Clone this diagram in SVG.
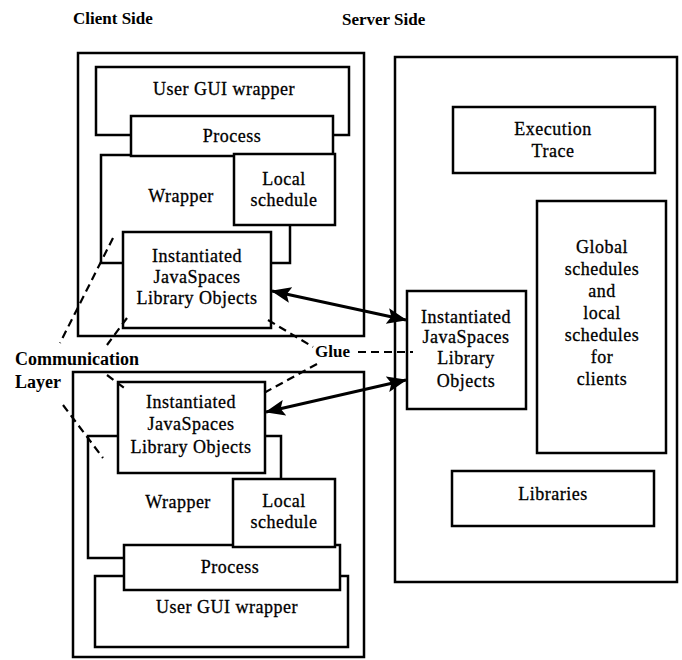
<svg xmlns="http://www.w3.org/2000/svg" width="682" height="660" viewBox="0 0 682 660">
<style>
.box{fill:#fff;stroke:#000;stroke-width:2.5}
.t{font-family:'Liberation Serif','DejaVu Serif',serif;font-size:18px;letter-spacing:0.5px;text-anchor:middle;fill:#000;stroke:#000;stroke-width:0.3}
.h{font-family:'Liberation Serif','DejaVu Serif',serif;font-size:17px;font-weight:bold;fill:#000}
.dash{fill:none;stroke:#000;stroke-width:2.2;stroke-dasharray:8 5}
.arr{fill:none;stroke:#000;stroke-width:3;marker-start:url(#ah);marker-end:url(#ah)}
</style>
<defs>
<marker id="ah" viewBox="0 0 20 16" refX="19" refY="8" markerWidth="20" markerHeight="16" markerUnits="userSpaceOnUse" orient="auto-start-reverse">
<path d="M0,0 L20,8 L0,16 L4,8 Z" fill="#000"/>
</marker>
</defs>
<rect width="682" height="660" fill="#fff"/>
<text class="h" x="73" y="24">Client Side</text>
<text class="h" x="342" y="25">Server Side</text>

<g id="client-top">
<rect class="box" x="78" y="53" width="286" height="283"/>
<g id="top-gui"><rect class="box" x="96" y="67" width="253" height="68"/><text class="t" x="224" y="95">User GUI wrapper</text></g>
<g id="top-wrapper"><rect class="box" x="101" y="155" width="189" height="108"/><text class="t" x="181" y="202">Wrapper</text></g>
<g id="top-process"><rect class="box" x="131" y="116" width="202" height="40"/><text class="t" x="232" y="142">Process</text></g>
<g id="top-local"><rect class="box" x="234" y="154" width="101" height="71"/><text class="t" x="284" y="185">Local</text><text class="t" x="284" y="206">schedule</text></g>
<g id="top-inst"><rect class="box" x="123" y="232" width="148" height="96"/><text class="t" x="197" y="262">Instantiated</text><text class="t" x="197" y="283">JavaSpaces</text><text class="t" x="197" y="304">Library Objects</text></g>
</g>

<g id="client-bottom">
<rect class="box" x="73" y="372" width="291" height="285"/>
<g id="bot-gui"><rect class="box" x="95" y="576" width="253" height="71"/><text class="t" x="227" y="613">User GUI wrapper</text></g>
<g id="bot-wrapper"><rect class="box" x="88" y="436" width="193" height="122"/><text class="t" x="178" y="508">Wrapper</text></g>
<g id="bot-process"><rect class="box" x="124" y="545" width="216" height="45"/><text class="t" x="230" y="573">Process</text></g>
<g id="bot-local"><rect class="box" x="233" y="479" width="102" height="68"/><text class="t" x="284" y="507">Local</text><text class="t" x="284" y="528">schedule</text></g>
<g id="bot-inst"><rect class="box" x="118" y="382" width="147" height="91"/><text class="t" x="191" y="408">Instantiated</text><text class="t" x="191" y="430">JavaSpaces</text><text class="t" x="191" y="453">Library Objects</text></g>
</g>

<g id="server">
<rect class="box" x="395" y="57" width="282" height="525"/>
<g id="exec"><rect class="box" x="453" y="107" width="202" height="66"/><text class="t" x="553" y="135">Execution</text><text class="t" x="553" y="157">Trace</text></g>
<g id="global"><rect class="box" x="537" y="201" width="129" height="252"/><text class="t" x="602" y="253">Global</text><text class="t" x="602" y="275">schedules</text><text class="t" x="602" y="297">and</text><text class="t" x="602" y="319">local</text><text class="t" x="602" y="341">schedules</text><text class="t" x="602" y="363">for</text><text class="t" x="602" y="385">clients</text></g>
<g id="srv-inst"><rect class="box" x="407" y="291" width="119" height="118"/><text class="t" x="466" y="323">Instantiated</text><text class="t" x="466" y="343">JavaSpaces</text><text class="t" x="466" y="364">Library</text><text class="t" x="466" y="387">Objects</text></g>
<g id="libs"><rect class="box" x="452" y="471" width="202" height="55"/><text class="t" x="553" y="500">Libraries</text></g>
</g>

<g id="labels">
<text class="h" x="15" y="365" style="font-size:18px">Communication</text>
<text class="h" x="15" y="388" style="font-size:18px">Layer</text>
<text class="h" x="315" y="357" style="font-size:17px">Glue</text>
</g>

<g id="connectors">
<line class="arr" x1="272" y1="291" x2="406" y2="320"/>
<line class="arr" x1="406" y1="380" x2="266" y2="412"/>
<line class="dash" x1="358" y1="352" x2="413" y2="352"/>
<line class="dash" x1="268" y1="320" x2="313" y2="347"/>
<line class="dash" x1="317" y1="364" x2="262" y2="394"/>
<line class="dash" x1="113" y1="238" x2="60" y2="343"/>
<line class="dash" x1="127" y1="318" x2="107" y2="345"/>
<line class="dash" x1="107" y1="375" x2="127" y2="390"/>
<line class="dash" x1="63" y1="405" x2="103" y2="458"/>
</g>
</svg>
